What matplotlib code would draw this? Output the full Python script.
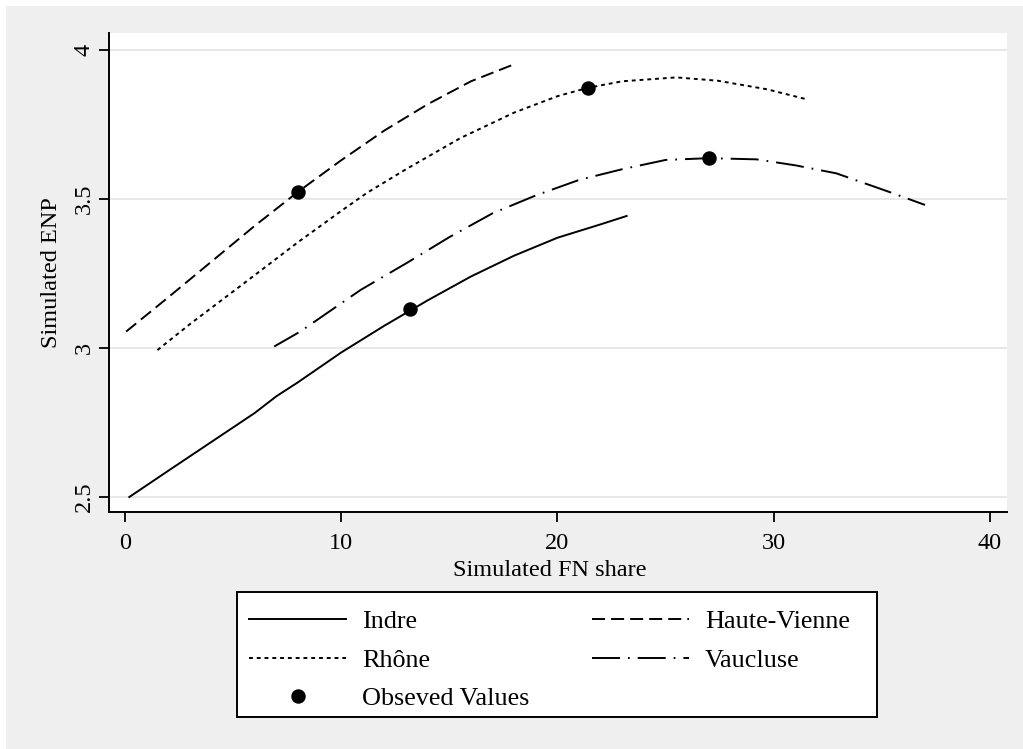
import matplotlib
matplotlib.use("Agg")
import matplotlib.pyplot as plt
from matplotlib.patches import Rectangle

# simulated curves
indre_x = [0.2, 2, 4, 6, 7, 8, 10, 12, 14, 16, 18, 20, 22, 23.2]
indre_y = [2.50, 2.588, 2.685, 2.782, 2.838, 2.885, 2.985, 3.075, 3.16, 3.24, 3.31, 3.37, 3.415, 3.443]

hv_x = [0.05, 2, 4, 6, 8, 10, 12, 14, 16, 18.1]
hv_y = [3.055, 3.17, 3.29, 3.41, 3.524, 3.63, 3.73, 3.818, 3.895, 3.955]

rhone_x = [1.5, 3, 5.5, 8, 10, 11.2, 13, 15.5, 18, 20, 21.4, 23, 25.5, 27.4, 29.7, 31.5]
rhone_y = [2.993, 3.08, 3.217, 3.355, 3.46, 3.521, 3.60, 3.704, 3.79, 3.845, 3.873, 3.895, 3.908, 3.897, 3.868, 3.835]

vaucluse_x = [6.9, 8.1, 10.9, 13, 15, 17, 19, 21, 23, 25, 27, 29.2, 31, 32.9, 35.1, 37.0]
vaucluse_y = [3.005, 3.055, 3.195, 3.284, 3.372, 3.452, 3.512, 3.564, 3.60, 3.631, 3.637, 3.633, 3.613, 3.586, 3.53, 3.48]

obs_x = [8.0, 13.2, 21.4, 27.0]
obs_y = [3.525, 3.13, 3.873, 3.637]

xticks = [0, 10, 20, 30, 40]
yticks = [2.5, 3, 3.5, 4]
ytick_labels = ["2.5", "3", "3.5", "4"]

plt.rcParams['font.family'] = ['Liberation Serif', 'DejaVu Serif']
fs = 17.5
lfs = 18.8

fig = plt.figure(figsize=(10.23, 7.49), dpi=100, facecolor='white')
fig.patches.append(Rectangle((6 / 1023, 0), 1, 743 / 749, transform=fig.transFigure,
                             facecolor='#efefef', edgecolor='none', zorder=-10))
# legend box (Stata style, square corners)
fig.patches.append(Rectangle((237 / 1023, 32 / 749), 640 / 1023, 125 / 749, transform=fig.transFigure,
                             facecolor='white', edgecolor='black', lw=1.4, zorder=1))

ax = fig.add_axes([109 / 1023, (749 - 512) / 749, 898 / 1023, 479 / 749])
ax.set_facecolor('white')

lw = 1.4
ax.plot(indre_x, indre_y, color='black', lw=lw, ls='-', label='Indre')
ax.plot(hv_x, hv_y, color='black', lw=lw, ls=(0, (6.7, 3.1)), label='Haute-Vienne')
ax.plot(rhone_x, rhone_y, color='black', lw=lw, ls=(0, (2.0, 2.0)), label='Rhône')
ax.plot(vaucluse_x, vaucluse_y, color='black', lw=lw, ls=(0, (14.4, 4.1, 0.9, 4.1)), label='Vaucluse')
ax.plot(obs_x, obs_y, ls='none', marker='o', ms=9.4, color='black', label='Obseved Values', zorder=5)

ax.set_xlim(-0.74, 40.79)
ax.set_ylim(2.4497, 4.057)
ax.set_xticks(xticks)
ax.set_yticks(yticks)
ax.set_yticklabels(ytick_labels, rotation=90, va='center')
ax.tick_params(axis='both', direction='out', length=7.2, width=1.3, labelsize=fs, color='black')
ax.tick_params(axis='x', pad=8)
ax.tick_params(axis='y', pad=3)
ax.grid(axis='y', color='#e8e8e8', lw=1.4)
ax.set_axisbelow(True)

for s in ['top', 'right']:
    ax.spines[s].set_visible(False)
for s in ['left', 'bottom']:
    ax.spines[s].set_linewidth(1.4)

ax.set_xlabel('Simulated FN share', fontsize=fs)
ax.set_ylabel('Simulated ENP', fontsize=fs)
ax.xaxis.label.set_va('center')
ax.yaxis.label.set_va('center')
ax.xaxis.set_label_coords((550 - 109) / 898, (512 - 570) / 479)
ax.yaxis.set_label_coords((52 - 109) / 898, 0.5)

h, l = ax.get_legend_handles_labels()
order = [0, 2, 4, 1, 3]
leg = fig.legend([h[i] for i in order], [l[i] for i in order],
                 loc='center', bbox_to_anchor=(249 / 1023, (749 - 700) / 749, 601 / 1023, 80 / 749),
                 mode='expand', ncol=2, fontsize=lfs, frameon=False,
                 handlelength=3.72, handletextpad=0.61, labelspacing=0.57,
                 borderpad=0, borderaxespad=0)
leg.set_zorder(2)

fig.savefig('out.png', dpi=100, facecolor=fig.get_facecolor())
